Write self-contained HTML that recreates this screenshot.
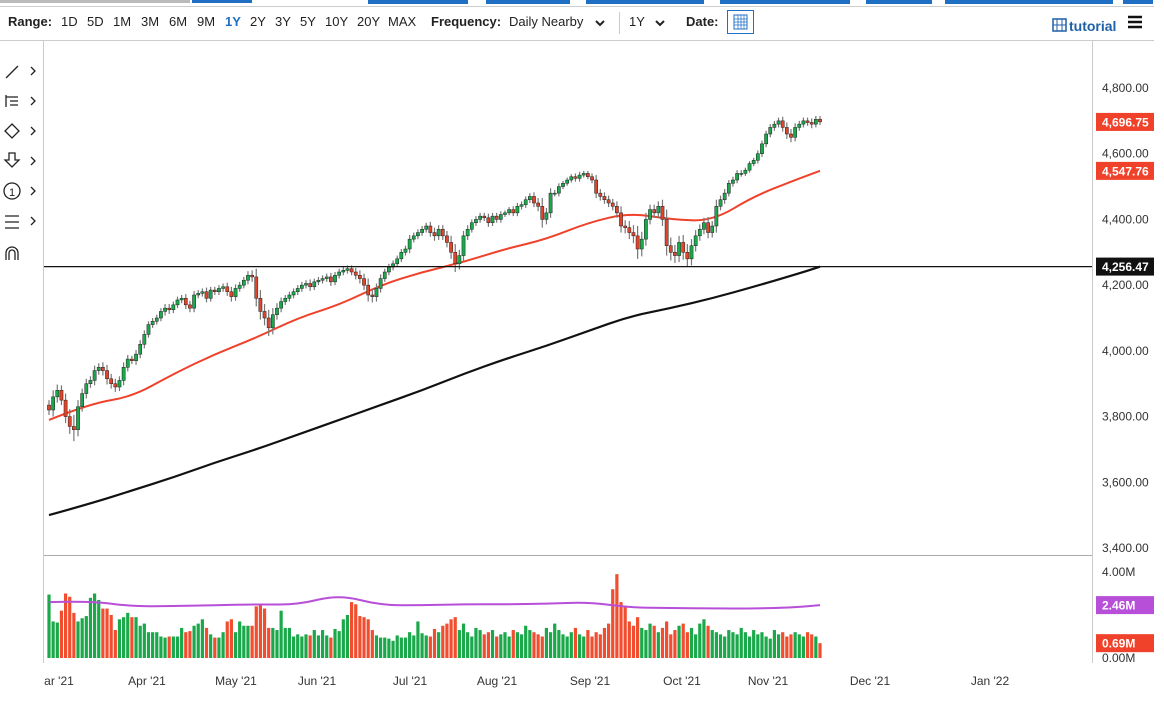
<!DOCTYPE html>
<html><head><meta charset="utf-8"><style>
body{margin:0;background:#fff;font-family:"Liberation Sans",sans-serif;}
svg text{font-family:"Liberation Sans",sans-serif;}
</style></head><body>
<svg id="c" width="1164" height="702" xmlns="http://www.w3.org/2000/svg">
<rect x="0" y="0" width="1164" height="702" fill="#fff"/>
<g>
<rect x="0" y="0" width="190" height="3" fill="#bbb"/><rect x="192" y="0" width="60" height="3" fill="#1f6fc5"/>
<rect x="368" y="0" width="100" height="4" fill="#1f6fc5"/><rect x="486" y="0" width="84" height="4" fill="#1f6fc5"/>
<rect x="586" y="0" width="118" height="4" fill="#1f6fc5"/><rect x="720" y="0" width="130" height="4" fill="#1f6fc5"/>
<rect x="866" y="0" width="66" height="4" fill="#1f6fc5"/><rect x="945" y="0" width="150" height="4" fill="#1f6fc5"/>
<rect x="1065" y="0" width="48" height="4" fill="#1f6fc5"/><rect x="1123" y="0" width="30" height="4" fill="#1f6fc5"/>
<rect x="0" y="6" width="1154" height="1" fill="#ccc"/>
<rect x="0" y="40" width="1154" height="1" fill="#ccc"/>
</g>
<g font-size="13" fill="#222">
<text x="8" y="26" font-weight="bold">Range:</text>
<text x="61" y="26">1D</text>
<text x="87" y="26">5D</text>
<text x="113" y="26">1M</text>
<text x="141" y="26">3M</text>
<text x="169" y="26">6M</text>
<text x="197" y="26">9M</text>
<text x="225" y="26" fill="#1f6fc5" font-weight="bold">1Y</text>
<text x="250" y="26">2Y</text>
<text x="275" y="26">3Y</text>
<text x="300" y="26">5Y</text>
<text x="325" y="26">10Y</text>
<text x="357" y="26">20Y</text>
<text x="388" y="26">MAX</text>
<text x="431" y="26" font-weight="bold">Frequency:</text>
<text x="509" y="26">Daily Nearby</text>
<path d="M596 21l4 4 4-4" stroke="#222" stroke-width="2" fill="none"/>
<rect x="619" y="12" width="1" height="22" fill="#ccc"/>
<text x="629" y="26">1Y</text>
<path d="M656 21l4 4 4-4" stroke="#222" stroke-width="2" fill="none"/>
<text x="686" y="26" font-weight="bold">Date:</text>
<g><rect x="727.5" y="10.5" width="26" height="23" fill="#fff" stroke="#1f6fc5"/>
<rect x="734" y="15" width="13" height="14" fill="none" stroke="#1f6fc5"/><path d="M734 19h13M734 22h13M734 25h13M738 15v14M741 15v14M744 15v14" stroke="#1f6fc5" stroke-width="0.7"/></g>
<g><rect x="1053" y="19" width="13" height="12" fill="none" stroke="#1f5fa8" stroke-width="1.5"/><path d="M1057 19v12M1062 19v12M1053 25h13" stroke="#1f5fa8"/>
<text x="1069" y="31" fill="#1f5fa8" font-weight="bold" font-size="14">tutorial</text></g>
<path d="M1128 17h14M1128 22h14M1128 27h14" stroke="#111" stroke-width="2.5"/>
</g>
<g stroke="#222" fill="none" stroke-width="1.3">
<g><path d="M6 78l12-12"/><path d="M31 67l4 4-4 4"/></g>
<g><path d="M6 97h12M10 101h8M10 105h8M6 95v12"/><path d="M31 97l4 4-4 4"/></g>
<g><path d="M12 124l7 7-7 7-7-7z"/><path d="M31 127l4 4-4 4"/></g>
<g><path d="M9 153h6v7h4l-7 7-7-7h4z"/><path d="M31 157l4 4-4 4"/></g>
<g><circle cx="12" cy="191" r="8"/><text x="9" y="196" font-size="11" fill="#222" stroke="none">1</text><path d="M31 187l4 4-4 4"/></g>
<g><path d="M5 216h14M5 222h14M5 228h14"/><path d="M31 217l4 4-4 4"/></g>
<g><path d="M6 260v-7a6 6 0 0 1 12 0v7M9 260v-7a3 3 0 0 1 6 0v7"/></g>
</g>
<rect x="43" y="41" width="1" height="622" fill="#ccc"/>
<rect x="1092" y="41" width="1" height="622" fill="#ccc"/>
<rect x="44" y="555" width="1048" height="1" fill="#aaa"/>
<g id="plot"></g>
</svg>
<script>
const closes=[3820,3860,3880,3850,3800,3770,3760,3830,3870,3900,
3910,3940,3950,3940,3915,3900,3890,3910,3950,3975,
3970,3990,4020,4050,4080,4090,4100,4120,4130,4125,
4140,4155,4160,4140,4130,4170,4175,4180,4160,4185,
4180,4190,4195,4180,4165,4190,4200,4215,4230,4225,
4160,4120,4100,4070,4110,4130,4150,4160,4170,4180,
4190,4200,4205,4195,4210,4215,4220,4225,4210,4230,
4240,4245,4250,4240,4230,4220,4200,4170,4165,4190,
4220,4240,4255,4265,4280,4300,4310,4340,4350,4360,
4370,4380,4360,4350,4370,4350,4330,4300,4265,4290,
4350,4370,4390,4400,4410,4405,4390,4410,4400,4415,
4420,4430,4420,4440,4445,4460,4470,4450,4440,4400,
4420,4480,4480,4500,4510,4520,4530,4525,4535,4540,
4530,4520,4480,4470,4460,4450,4440,4420,4380,4375,
4360,4350,4310,4340,4400,4430,4420,4440,4400,4320,
4300,4290,4330,4300,4280,4320,4350,4370,4390,4360,
4380,4440,4460,4480,4510,4520,4540,4540,4550,4570,
4580,4600,4630,4660,4680,4690,4700,4680,4660,4650,
4680,4690,4700,4695,4690,4705,4697];
const ranges=[30,40,35,30,40,45,70,40,30,30, 25,30,25,30,35,30,30,25,30,25, 20,25,25,25,20,20,20,20,25,25, 20,20,20,25,25,25,20,20,25,20, 20,20,20,25,30,25,20,20,25,30, 50,50,45,50,40,30,25,20,20,20, 20,20,20,25,20,20,20,20,25,20, 20,20,20,20,25,30,30,40,35,30, 25,20,20,20,20,20,20,25,20,20, 20,20,25,30,25,25,30,40,50,35, 30,25,20,20,20,20,25,20,20,20, 15,15,20,20,20,20,20,25,30,50, 30,30,20,20,15,15,15,20,20,15, 15,20,30,25,25,25,25,30,40,35, 40,45,60,45,40,30,30,30,40,60, 50,45,40,45,50,40,35,30,30,35, 30,40,25,25,20,20,20,20,15,15, 15,20,20,20,20,20,20,25,30,30, 25,20,20,20,25,20,20];
const vols=[2.95,1.7,1.65,2.2,3.0,2.85,2.1,1.7,1.85,1.95, 2.8,3.0,2.7,2.3,2.3,2.0,1.3,1.8,1.9,2.1, 1.9,1.9,1.5,1.6,1.2,1.2,1.2,1.0,0.95,1.0, 1.0,1.0,1.4,1.2,1.25,1.5,1.6,1.8,1.4,1.1, 0.95,0.95,1.2,1.7,1.8,1.2,1.7,1.5,1.5,1.5, 2.4,2.5,2.3,1.4,1.4,1.3,2.2,1.4,1.4,1.0, 1.1,1.0,1.1,1.05,1.3,1.05,1.3,1.05,0.95,1.35, 1.25,1.8,2.0,2.6,2.5,1.95,1.9,1.8,1.3,1.05, 0.95,0.95,0.9,0.8,1.05,0.95,0.95,1.2,1.05,1.7, 1.15,1.05,1.0,1.35,
1.2,1.5,1.6,1.8,1.9,1.3,1.6,1.2,1.0,1.4, 1.3,1.1,1.2,1.3,1.0,1.1,1.2,1.0,1.3,1.2, 1.1,1.5,1.3,1.2,1.1,1.0,1.4,1.2,1.6,1.3, 1.1,1.0,1.2,1.4,1.1,1.0,1.3,1.0,1.2,1.1, 1.4,1.6,3.2,3.9,2.6,2.4,1.7,1.5,1.9,1.4, 1.3,1.6,1.5,1.2,1.4,1.7,1.1,1.3,1.5,1.6, 1.2,1.4,1.1,1.6,1.8,1.5,1.3,1.2,1.1,1.0, 1.3,1.2,1.1,1.4,1.2,1.0,1.3,1.1,1.2,1.0, 0.9,1.3,1.1,1.2,1.0,1.1,1.2,1.1,1.0,1.2, 1.1,1.0,0.69];
const maIdx=[0,10,20,30,40,50,60,70,80,90,100,110,120,130,140,150,160,170,180,186];
const ma50=[3790,3840,3860,3930,3990,4040,4100,4140,4200,4240,4270,4310,4340,4390,4420,4400,4395,4470,4520,4548];
const ma200=[3500,3535,3575,3615,3660,3700,3745,3790,3835,3880,3930,3975,4015,4060,4105,4130,4160,4195,4232,4256];
const volMa=[2.6,2.65,2.4,2.42,2.45,2.5,2.48,2.95,2.45,2.45,2.5,2.5,2.52,2.6,2.35,2.32,2.3,2.3,2.35,2.46];
const priceTicks=[4800,4600,4400,4200,4000,3800,3600,3400];
const monthLabels=["ar '21","Apr '21","May '21","Jun '21","Jul '21","Aug '21","Sep '21","Oct '21","Nov '21","Dec '21","Jan '22"];
const monthPos=[59,147,236,317,410,497,590,682,768,870,990];
const NS="http://www.w3.org/2000/svg";
const g=document.getElementById('plot');
const X=i=>49+i*(820-49)/186;
const Y=v=>88+(4800-v)*(460/1400);
const VY=v=>658-v*86/4;
function mk(t,a){const e=document.createElementNS(NS,t);for(const k in a)e.setAttribute(k,a[k]);g.appendChild(e);return e;}
priceTicks.forEach(v=>{const t=mk('text',{x:1102,y:Y(v)+4,'font-size':12,fill:'#333'});t.textContent=v.toLocaleString('en-US',{minimumFractionDigits:2});

});
monthLabels.forEach((m,k)=>{const t=mk('text',{x:monthPos[k],y:685,'font-size':12,fill:'#333','text-anchor':'middle'});t.textContent=m;

});
vols.forEach((v,i)=>{const o=i?closes[i-1]:closes[0]-10;const up=closes[i]>=o;
const r=mk('rect',{x:X(i)-1.6,y:VY(v),width:3.2,height:658-VY(v),fill:up?'#1aa84b':'#f04e2f'});

});
function line(idx,vals,fy,col,w,name){
const pts=idx.map((ix,k)=>[X(ix),fy(vals[k])]);
let d='M'+pts[0][0].toFixed(1)+' '+pts[0][1].toFixed(1);
for(let k=1;k<pts.length-1;k++){const mx=(pts[k][0]+pts[k+1][0])/2,my=(pts[k][1]+pts[k+1][1])/2;
d+='Q'+pts[k][0].toFixed(1)+' '+pts[k][1].toFixed(1)+' '+mx.toFixed(1)+' '+my.toFixed(1);}
const L=pts[pts.length-1];d+='L'+L[0].toFixed(1)+' '+L[1].toFixed(1);
const p=mk('path',{d:d,stroke:col,'stroke-width':w,fill:'none','stroke-linejoin':'round'});

}
line(maIdx,volMa,VY,'#b84fd8',2,'volume-ma-line');
line(maIdx,ma200,Y,'#111',2.2,'ma200-line');
line(maIdx,ma50,Y,'#f0412a',2,'ma50-line');
closes.forEach((c,i)=>{const o=i?closes[i-1]:closes[0]+15;const up=c>=o;const hi=Math.max(o,c)+ranges[i]/2,lo=Math.min(o,c)-ranges[i]/2;
const w=mk('line',{x1:X(i),x2:X(i),y1:Y(hi),y2:Y(lo),stroke:'#777','stroke-width':1.2});


const b=mk('rect',{x:X(i)-1.6,y:Y(Math.max(o,c)),width:3.2,height:Math.max(1,Math.abs(Y(o)-Y(c))),fill:up?'#1aa84b':'#e0442a',stroke:'#222','stroke-width':0.5});

});
const hl=mk('line',{x1:44,x2:1092,y1:Y(4256.47),y2:Y(4256.47),stroke:'#111','stroke-width':1.3});


function tag(y,txt,col,name){const r=mk('rect',{x:1096,y:y-9,width:58,height:18,fill:col});


const t=mk('text',{x:1102,y:y+4.5,'font-size':12,fill:'#fff','font-weight':'bold'});t.textContent=txt;}
tag(Y(4696.75),'4,696.75','#f0412a','last-price-tag');
tag(Y(4547.76),'4,547.76','#f0412a','ma50-tag');
tag(Y(4256.47),'4,256.47','#111','level-tag');
tag(VY(2.46),'2.46M','#b84fd8','volume-ma-tag');
tag(VY(0.69),'0.69M','#f0412a','last-volume-tag');
[[4,'4.00M'],[0,'0.00M']].forEach(([v,s])=>{const t=mk('text',{x:1102,y:VY(v)+4,'font-size':12,fill:'#333'});t.textContent=s;

});
</script>
</body></html>
